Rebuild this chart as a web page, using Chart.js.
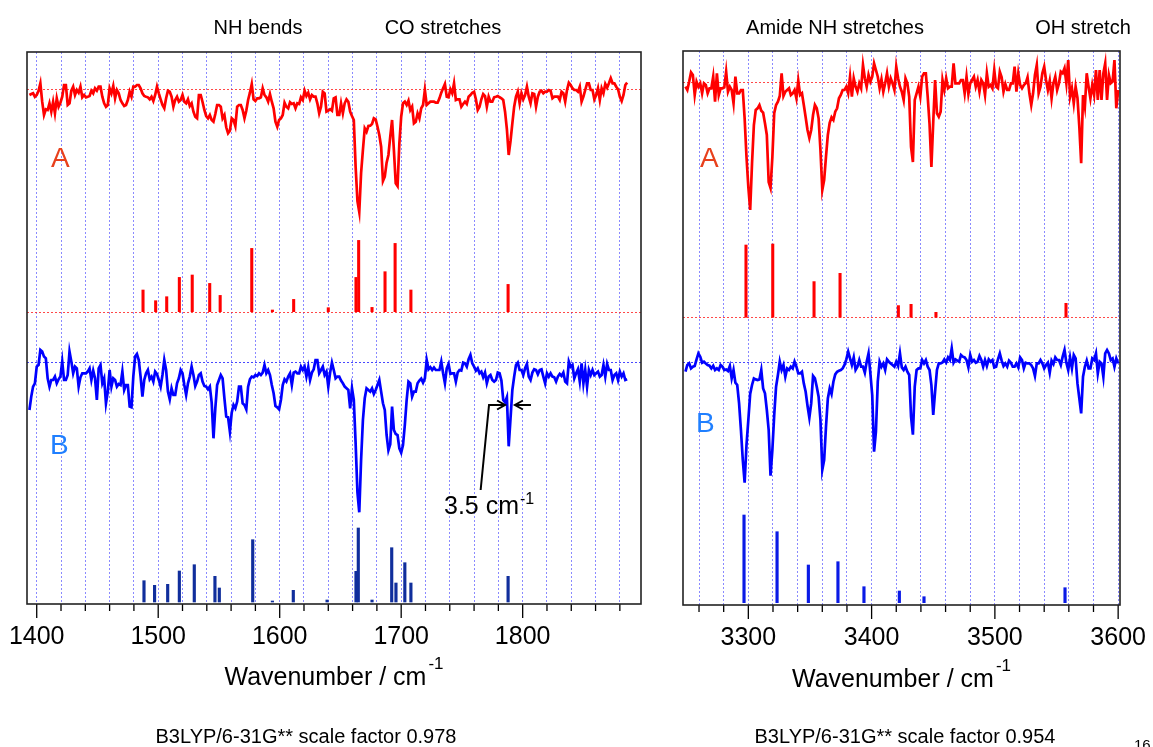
<!DOCTYPE html>
<html><head><meta charset="utf-8">
<script src="https://cdn.jsdelivr.net/npm/chart.js@4/dist/chart.umd.min.js"></script>
<style>
html,body{margin:0;padding:0;background:#fff;width:1153px;height:747px;overflow:hidden;font-family:"Liberation Sans",Arial,sans-serif;}
#wrap{position:relative;width:1153px;height:747px;}
canvas{position:absolute;top:0;}
.t{position:absolute;white-space:nowrap;line-height:1;color:#000;}
.c{text-align:center;}
</style></head><body><div id="wrap">
<canvas id="cl" width="660" height="747" style="left:0;width:660px;height:747px"></canvas>
<canvas id="cr" width="493" height="747" style="left:660px;width:493px;height:747px"></canvas>

<div class="t c" style="left:158px;width:200px;top:17px;font-size:20px">NH bends</div>
<div class="t c" style="left:343px;width:200px;top:17px;font-size:20px">CO stretches</div>
<div class="t c" style="left:715px;width:240px;top:17px;font-size:20px">Amide NH stretches</div>
<div class="t c" style="left:1013px;width:140px;top:17px;font-size:20px">OH stretch</div>

<div class="t" style="left:51px;top:144px;font-size:28px;color:#e8401c">A</div>
<div class="t" style="left:700px;top:144px;font-size:28px;color:#e8401c">A</div>
<div class="t" style="left:50px;top:431px;font-size:28px;color:#1f7fff">B</div>
<div class="t" style="left:696px;top:409px;font-size:28px;color:#1f7fff">B</div>

<div class="t" style="left:444px;top:493px;font-size:25px">3.5 cm<span style="font-size:16px;position:relative;top:-10px;margin-left:1px">-1</span></div>

<div class="t c" style="left:27px;width:614px;top:664px;font-size:25px">Wavenumber / cm<span style="font-size:17px;position:relative;top:-16px;margin-left:2px">-1</span></div>
<div class="t c" style="left:683px;width:437px;top:666px;font-size:25px">Wavenumber / cm<span style="font-size:17px;position:relative;top:-16px;margin-left:2px">-1</span></div>

<div class="t c" style="left:126px;width:360px;top:726px;font-size:20px">B3LYP/6-31G** scale factor 0.978</div>
<div class="t c" style="left:725px;width:360px;top:726px;font-size:20px">B3LYP/6-31G** scale factor 0.954</div>
<div class="t" style="left:1134px;top:737px;font-size:15px">16</div>
</div>
<script>
// ---------------- data ----------------
const gridStep = 1.5;          // cm-1 sampling of experimental traces
const leftStart = 1394;        // first wavenumber, left panel traces
const rightStart = 3249;       // first wavenumber, right panel traces

const leftTickLabels = [1400, 1500, 1600, 1700, 1800];
const rightTickLabels = [3300, 3400, 3500, 3600];

// experimental traces (relative signal, 0 = baseline, dips negative)
const leftTraceA = [
-6,-5,-4.3,-7.7,-6,-1.7,5.7,-12.7,-26,-20.3,-21,-14.3,-22.7,-12.7,-24.3,-9.3,-17.7,-13.7,-7.7,4,
4,-16,-14.3,-1.7,2.3,-6,-1,-3.7,2.3,-8.3,-6,-8.3,-7.7,-7,-1.7,-4.3,0.7,-1.7,2.3,2.3,
-7.7,-14.3,-17.7,-16,0.7,-4.3,3,-9.3,-1,-4.3,-11,-14.3,-17,-16,-11,-2.7,-7.7,2.3,2.3,4,
4,0.7,-4.3,-7,-7.7,-8.3,-10.3,-7.7,-12,-6,2.3,-4.3,-10.3,-16,-19.3,-9.3,-1.7,-2.7,-7.7,-17.7,
-11,-7.7,-12.7,-11,-6,-12.7,-14.3,-10.3,-17,-14.3,-22.7,-27.7,-29.3,-6,-6,-13,-21,-27,-29.3,-26,
-31,-32.7,-25,-16,-16,-17.7,-29.3,-26,-38.3,-44.3,-41.7,-29.3,-31,-37,-17.7,-16,-16,-21,-29.3,-21.7,
-11,-3.7,5,-10.3,-12,-9.3,-9.3,-8.3,0.7,-6,-8.3,-12.7,-5,-12.7,-19.3,-32.7,-37.7,-31,-29.3,-26,
-13.7,-17.7,-19.3,-13.3,-15,-14.3,-19.3,-14.3,-15,-8.3,-11,-1.7,-7,-3.7,-10.3,-6,-7.7,-7.7,-14.3,-24.3,
-17.7,-2.7,-4.3,-22.7,-21.7,-20.3,-21.7,-9.3,-8.3,-26,-26,-14.3,-24.3,-14.3,-10.3,-12.7,-22.7,-27,-31,-77.7,
-112,-123,-84,-61,-39.3,-42.7,-37,-36.7,-35,-29.3,-30.3,-37.7,-46,-57.7,-92,-87.7,-73.7,-66,-47.7,-31,
-61,-94.3,-97,-54.3,-27.7,-14.3,-12.7,-16,-11.7,-21,-17.7,-34.3,-32.7,-24.3,-29.3,-19.3,-16,-1,-16,-14.3,
-12.7,-12.7,-12.7,-13.7,-13.7,-9.3,-3.7,0.7,5,-7.7,-8.3,-0.3,-4.3,5.7,-11,-10.3,-10.3,-17.7,-15,-12.7,
-15,-7.7,-6,-3.7,-2.7,-10.3,-21,-17.7,-10.3,-5,-7,-17.7,-7.7,-12.7,-12.7,-8.3,-7.7,-7,-8.3,-9.3,
-11,-22.7,-40,-66,-52,-34.3,-17.7,-7.7,-2.7,-14.3,-4.3,-10.3,-6,2.3,-7.7,-14.3,-4.3,-5,-17.7,-7.7,
-2.7,-1.7,-4.3,-2.7,-2.7,-1,-1.7,-9.3,-7.7,-7.7,-7.7,-11,-2.7,-4.3,-12.7,-1,6.3,4,0.7,-1,
-1,-2.7,2.3,-12.7,-7.7,-1,5.7,5.7,-1,-1,-10.3,-6,0.7,-11,0.7,-4.3,5,1.3,5.7,10.7,
5.7,5.7,2.3,-0.3,-7.7,-12,-6,4,6.3];
const leftTraceB = [
-47.7,-34.3,-24.3,-21,-4.3,-2.7,12.3,10.7,5.7,4,-16,-24.3,-17.7,-17.7,-14.3,-21,-17,-14.3,0.7,-17.7,
-17.7,-12.7,10.7,0.7,-11,-4.3,-6,-24.3,-15,-11,-11,-11,-9.3,-6,-17.7,-8.3,-16,-37.7,-6,-2.7,
-21,-16,-41,-29.3,-7.7,-24.3,-16,-17.7,-24.3,-21.7,-22.7,-9.3,-27.7,-22.7,-22.7,-44.3,-45,-14.3,5.7,8.3,
2.3,-14.3,-34.3,-17.7,-11,-7.7,-17,-14.3,-19.3,-9.3,-11.7,-17.7,-24.3,-12.7,2.3,-7.7,-29.3,-37,-26,-32.7,
-32.7,-21,-16,-7.7,-11,-22.7,-32.7,-21,-14.3,-4.3,-12.7,-23.7,-19.3,-12.7,-11,-19.3,-23.7,-24.3,-27,-24.3,
-40,-76,-46,-22.7,-17.7,-12.7,-16,-36,-54.3,-55,-69.3,-50.3,-42.7,-46,-39.3,-24.3,-24.3,-41,-42.7,-47,
-24.3,-17,-14.3,-15,-12.7,-13.7,-11,-12.7,-10.3,-2.7,-11,-7.7,-12.7,-22.7,-31,-43.7,-45,-47,-37.7,-22.7,
-17,-19.3,-14.3,-11,-22.7,-10.3,-9.3,-11,-11,-4.3,-7.7,-4.3,-14.3,-5,-17.7,-10.3,-7,2.3,2.3,-11,
-7.7,-4.3,-12.7,-9.3,-24.3,-10.3,-0.3,-7.7,-16,-14.3,-14.3,-18.3,-21,-24.3,-26,-27.7,-46,-26,-37.7,-81,
-130,-150,-97.7,-57.7,-36,-26,-27.7,-29.3,-26,-31.7,-27.7,-22.7,-17.7,-29.3,-41,-47.7,-72.7,-88,-82,-44.3,
-67.7,-71.7,-72.7,-86,-90.3,-82.7,-62.7,-37.7,-19.3,-21,-34.3,-29.3,-29.3,-21,-18.3,-16.3,-20.3,-16,2.3,-7,
-5,-7.7,-5.3,-7.7,-7.7,-7.7,0.7,-11,-21,-6,-1.7,-11.7,-11,-11,-19.3,-10.3,-7.7,-8.3,-0.3,-1,
-4.3,3,7.3,-1,-4.3,-8.3,-6,-11,-9.3,-15,-10.3,-21,-14.3,-12.7,-17.7,-19.3,-17.7,-10.3,-11,-18.3,
-37.7,-40,-35,-84,-56,-27.7,-14.3,-2.7,-0.3,-7.7,-7.7,-12.7,-6,-1.7,-14.3,-17.7,-10.3,-7,-7.7,-12,
-7.7,-7,-14.3,-21,-11,-14.3,-11,-14.3,-15,-19.3,-14.3,-11.7,-13.7,-10.3,-19.3,-21,0.7,-4.3,-2.7,-16,
-11,-7,-19.3,-1,-21,-7.7,-24.3,-7.7,-12.7,-7.7,-12.7,-11,-9.3,-14.3,-12.7,-2.7,-14.3,-1.7,-7.7,-7.7,
-17.7,-12.7,-11,-17.7,-9.3,-14.3,-11,-17.7,-17];
const rightTraceA = [
-4.7,-8,0.3,9.7,7,-13,0.3,-4.7,-1.3,-11.3,-1.3,-3,-11.3,-6.3,-6.3,5.3,-19.7,8.7,-13,-6.3,
-6.3,-5.3,10.3,-9.7,-4.7,-8,-21.3,5.3,-11.3,-11.3,-8,-8,-36.3,-74.7,-105,-128,-81.3,-43,-28,-26.3,
-23,-28.7,-30.7,-41.3,-53,-100,-106,-75,-31.3,-23,-19.7,-14,8.7,-14,-9.7,-8,-6.3,-13,-11.3,-8,
-16.3,1.3,-13,-11.3,-23,-35.3,-48,-56,-48,-33,-23,-26.3,-36.3,-68,-108,-98,-74.7,-53,-40.7,-35.3,
-38,-29.7,-26.3,-16.3,-13,-8,-8,-4.7,-11.3,5.3,-14.7,3.7,-4.7,-9.7,-1.3,-6.3,17,3.7,-4.7,7,
0.3,5.3,18.7,12,5.3,-6.3,2.7,-9.7,-1.3,8.7,-4.7,3.7,-1.3,-8,15.3,3.7,-4.7,-9.7,-18,3.7,
-1.3,-14.7,-65,-80,-18,-11.3,-4.7,-14.7,5.3,8.7,8.7,-14.7,-42,-85,-40,2,-31.3,-34.7,-29.7,2,
-8,3.7,-6.3,-4.7,-4.7,18.7,-1.3,-1.3,-1.3,2,2,-11.3,5.3,-12,-1.3,2,5.3,-4.7,2,-9.7,
2,-1.3,-13,8.7,-4.7,-3,-6.3,12,-4.7,-6.3,10.3,4.7,-9.7,-2,-8,-8,-1.3,-1.3,15.3,-9.7,
8.7,-3,-6.3,-3,-1.3,4.7,-11.3,-23,-11.3,7,17,-11.3,-4.7,8.7,15.3,2,-8,1.3,-16.3,-1.3,
5.3,-8,-1.3,10.3,8.7,13.7,-1.3,22,-14.7,-6.3,-21.3,-4.7,-16,-44.7,-81.3,-13,-24.7,8.7,-4.7,-16.3,
-3,-13,12,-18,12,-18,8.7,18.7,-18,7,-1.3,0.3,22,-26.3,-8];
const rightTraceB = [
-10,-3.3,-1.7,-6.7,-5,-4.3,2.3,8.3,5,-1,0,-1.7,-3.3,-4,-6.7,-4,-8.3,-6.7,-8.3,-3.3,
-5,-8.3,-7.7,-9.3,-4.3,-16.7,-8.3,-21,-23.3,-41.7,-68.3,-98.3,-121,-83.3,-58.3,-32.3,-23.3,-16.7,-17.7,-18.3,
-17.7,-8.3,-26.7,-31.7,-48.3,-68.3,-114,-88.3,-53.3,-25,-13.3,0,-8.3,-3.3,-15,-6.7,-8.3,-5,-6.7,0,
-5,-11.7,-11.7,-10,-21.7,-30,-44,-56,-41.7,-14.3,-16.7,-25,-35,-58.3,-108,-98.3,-65,-36.7,-26.7,-32.3,
-20,-12.7,-10,-9,-8.3,-6.7,-3.3,2.3,10,3.3,-3.3,4.3,-8.3,-5,1.7,-5,-5,-11,0,8.3,
-11.7,-33.3,-90,-70,-20,0,-5,-1.7,-8.3,2.3,0,-1.7,-3.3,-5,0,-4.3,8.3,-5.7,-8.3,-5,
-10,-13.3,-55,-73,-25,-8.3,-6.7,-6.7,1.7,-1.7,1.7,-5,-8.3,-23.3,-53.3,-30,-8.3,-1.7,-1.7,-0.7,
2.3,-0.7,4.3,1.7,13.3,-1,2.3,1,0,6.7,5,4.3,1.7,-5.7,6.7,0,1.7,-1,0,5.7,
1.7,-5,1.7,-4.3,2.3,0,1.7,-5.7,-5,2.3,8.3,1,-4.3,-1.7,-5,1,-1,-5,-5,-1.7,
-5.7,4.3,1.7,-6.7,-1,-1.7,-1.7,-3.3,-6.7,-14.3,-1.7,-1.7,1.7,-1.7,-6.7,-3.3,-1,-11,1,-2.3,
4.3,1.7,1.7,-3.3,5,11.7,-1,-8.3,4.3,-6.7,6.7,3.3,-21.7,-36.7,-51.7,-15,-5,1,-6.7,-6.7,
3.3,1.7,8.3,-11.7,0,-1.7,-15,8.3,11.7,8.3,1.7,3.3,-5,3.3,-1.7];

// calculated stick spectra (wavenumber, intensity)
const leftSticksAWn = [1487.5,1497.9,1507,1517.4,1528,1542.4,1551,1577,1594,1611.5,1640,1662.8,1665,1676,1686.7,1695,1708,1788];
const leftSticksAInt = [21.7,11,15,34.3,36.7,28.3,16.3,63.3,1.7,12.3,4,34.3,71.3,4.3,40,68.3,21.7,27.3];
const leftSticksBWn = [1488.3,1497,1507.8,1517.4,1529.7,1546.7,1550.3,1577.8,1594,1611.2,1639,1662.8,1664.7,1676,1692.2,1695.7,1703,1708,1788];
const leftSticksBInt = [21.3,16.7,17.7,31,37.3,25.7,14,62.3,1,11.7,2,30.7,74,2,54.3,19,39.3,19,25.7];
const rightSticksAWn = [3298.1,3319.8,3353.3,3374.4,3421.7,3432,3452.2,3557.7];
const rightSticksAInt = [72.3,73.3,35.7,44,11.7,13,5,14];
const rightSticksBWn = [3296.5,3323.3,3348.7,3372.7,3393.8,3422.5,3442.5,3556.9];
const rightSticksBInt = [87.7,71,37.7,41,16,11.7,6,15];

// ---------------- layout (vertical stacking offsets, axis ranges) ----------------
const leftLayout = {xMin:1392, xMax:1897.4, yMax:552, traceA:515, sticksA:292.3, traceB:241.7, sticksB:2,
  padL:27, padR:19, padT:52, axisH:143, majors:leftTickLabels};
const rightLayout = {xMin:3247, xMax:3601.5, yMax:554, traceA:523, sticksA:287.7, traceB:243.3, sticksB:2.3,
  padL:23, padR:33, padT:51, axisH:142, majors:rightTickLabels};
// annotation of the 3.5 cm-1 width (wavenumber, plot units)
const annotPath = [[1765.4,114],[1772.3,199],[1785.5,199]];
const annotArrow2 = [[1806.8,199],[1793.6,199]];

Chart.defaults.font.family = "'Liberation Sans', Arial, sans-serif";
Chart.defaults.color = '#000';

function traceData(start, vals, offset){ return vals.map((v,i)=>({x:start+i*gridStep, y:offset+v})); }
function stickData(wns, ints, base){ return wns.map((w,i)=>({x:w, y:[base, base+ints[i]]})); }

function framePlugin(L, baselines, extra){
  return {
    id:'frame',
    beforeDatasetsDraw(chart){
      const {ctx, chartArea:a, scales:{y}} = chart;
      baselines.forEach(b=>{
        const py = Math.round(y.getPixelForValue(b.value))+0.5;
        ctx.save(); ctx.strokeStyle=b.color; ctx.lineWidth=1; ctx.setLineDash([2,2]);
        ctx.beginPath(); ctx.moveTo(a.left,py); ctx.lineTo(a.right,py); ctx.stroke(); ctx.restore();
      });
    },
    afterDraw(chart){
      const {ctx, chartArea:a, scales:{x,y}} = chart;
      ctx.save();
      ctx.strokeStyle='#000'; ctx.lineWidth=1.3; ctx.setLineDash([]);
      x.ticks.forEach(t=>{
        const px = x.getPixelForValue(t.value);
        const len = L.majors.includes(t.value) ? 14 : 7;
        ctx.beginPath(); ctx.moveTo(px,a.bottom); ctx.lineTo(px,a.bottom+len); ctx.stroke();
      });
      ctx.strokeStyle='#222'; ctx.lineWidth=1.6;
      ctx.strokeRect(a.left,a.top,a.right-a.left,a.bottom-a.top);
      if (extra) extra(ctx,x,y);
      ctx.restore();
    }
  };
}

function drawAnnotation(ctx,x,y){
  const P = p=>[x.getPixelForValue(p[0]), y.getPixelForValue(p[1])];
  ctx.strokeStyle='#000'; ctx.lineWidth=2; ctx.lineJoin='miter';
  ctx.beginPath();
  annotPath.forEach((p,i)=>{const q=P(p); if(i) ctx.lineTo(q[0],q[1]); else ctx.moveTo(q[0],q[1]);});
  ctx.stroke();
  const a2 = annotArrow2.map(P);
  ctx.beginPath(); ctx.moveTo(a2[0][0],a2[0][1]); ctx.lineTo(a2[1][0],a2[1][1]); ctx.stroke();
  const head=(tip,dir)=>{ctx.beginPath(); ctx.moveTo(tip[0]-dir*8,tip[1]-4.5); ctx.lineTo(tip[0],tip[1]); ctx.lineTo(tip[0]-dir*8,tip[1]+4.5); ctx.stroke();};
  head(P(annotPath[annotPath.length-1]),1);
  head(a2[1],-1);
}

function makeChart(id, L, traceAVals, traceBVals, start, sA, sB, colors, extra){
  const datasets = [
    {type:'line', data:traceData(start,traceAVals,L.traceA), borderColor:'#ff0000', borderWidth:2.7, pointRadius:0, tension:0, order:1},
    {type:'line', data:traceData(start,traceBVals,L.traceB), borderColor:'#0000ff', borderWidth:2.7, pointRadius:0, tension:0, order:1},
    {type:'bar', data:stickData(sA[0],sA[1],L.sticksA), backgroundColor:'#ff0000', barThickness:2.4, grouped:false, borderWidth:0, order:2},
    {type:'bar', data:stickData(sB[0],sB[1],L.sticksB), backgroundColor:colors.stickB, barThickness:2.5, grouped:false, borderWidth:0, order:2}
  ];
  return new Chart(document.getElementById(id), {
    type:'line',
    data:{datasets},
    options:{
      responsive:false, animation:false, devicePixelRatio:1,
      layout:{padding:{left:L.padL, right:L.padR, top:L.padT, bottom:0}},
      plugins:{legend:{display:false}, tooltip:{enabled:false}},
      scales:{
        x:{type:'linear', min:L.xMin, max:L.xMax, offset:false,
           afterFit(s){ s.height = L.axisH; },
           ticks:{stepSize:20, includeBounds:false, autoSkip:false, maxRotation:0, minRotation:0, padding:4,
                  font:{size:25}, color:'#000',
                  callback:v=> L.majors.includes(v) ? String(v) : ''},
           grid:{color:'#8a8aff', lineWidth:1, drawTicks:true, tickLength:14, tickColor:'rgba(0,0,0,0)', offset:false, borderDash:[2,2]},
           border:{display:false, dash:[2,2]}},
        y:{type:'linear', display:false, min:0, max:L.yMax}
      }
    },
    plugins:[framePlugin(L, [
      {value:L.traceA, color:'rgba(255,40,40,0.85)'},
      {value:L.sticksA, color:'rgba(255,40,40,0.85)'},
      {value:L.traceB, color:'rgba(40,40,255,0.85)'}
    ], extra)]
  });
}

makeChart('cl', leftLayout, leftTraceA, leftTraceB, leftStart,
  [leftSticksAWn, leftSticksAInt], [leftSticksBWn, leftSticksBInt], {stickB:'#102e9c'}, drawAnnotation);
makeChart('cr', rightLayout, rightTraceA, rightTraceB, rightStart,
  [rightSticksAWn, rightSticksAInt], [rightSticksBWn, rightSticksBInt], {stickB:'#0a1ae6'}, null);
</script></body></html>
